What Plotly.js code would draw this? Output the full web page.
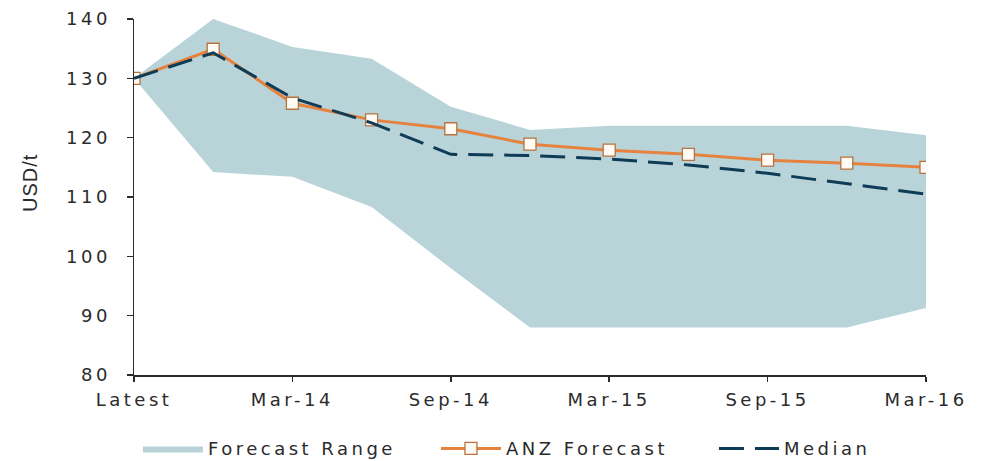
<!DOCTYPE html>
<html>
<head>
<meta charset="utf-8">
<script src="https://cdn.plot.ly/plotly-3.0.1.min.js"></script>
<style>
  html, body { margin: 0; padding: 0; background: #fff; }
  #chart { width: 981px; height: 461px; }
  /* wide, Verdana-like lettering for ticks and legend */
  text { letter-spacing: 3.5px; }
  .annotation-text { letter-spacing: 1px !important; }
</style>
</head>
<body>
<div id="chart"></div>
<script>
// Quarterly price outlook, USD per tonne
const categories = ['Latest', 'Dec-13', 'Mar-14', 'Jun-14', 'Sep-14', 'Dec-14',
                    'Mar-15', 'Jun-15', 'Sep-15', 'Dec-15', 'Mar-16'];
const tickLabels = ['Latest', 'Mar-14', 'Sep-14', 'Mar-15', 'Sep-15', 'Mar-16'];
const rangeHigh = [130, 140, 135.3, 133.3, 125.2, 121.3, 122, 122, 122, 122, 120.4];
const rangeLow  = [130, 114.2, 113.4, 108.3, 98, 88, 88, 88, 88, 88, 91.3];
const anzForecast = [130, 134.9, 125.8, 123.0, 121.5, 118.9, 117.9, 117.2, 116.2, 115.7, 115.0];
const median = [130, 134.3, 126.7, 122.5, 117.2, 117.0, 116.4, 115.4, 114.0, 112.3, 110.5];

const FILL = '#b9d4d9';
const ORANGE = '#e5823f';
const NAVY = '#0e3b55';
const INK = '#2b2b2b';

const traces = [
  {
    x: categories, y: rangeLow, type: 'scatter', mode: 'lines',
    line: { width: 0, color: FILL }, showlegend: false, hoverinfo: 'skip'
  },
  {
    x: categories, y: rangeHigh, type: 'scatter', mode: 'lines',
    fill: 'tonexty', fillcolor: FILL, legendwidth: 223,
    line: { width: 0, color: FILL }, name: 'Forecast Range', hoverinfo: 'skip'
  },
  {
    x: categories, y: anzForecast, type: 'scatter', mode: 'lines+markers',
    line: { color: ORANGE, width: 3 }, legendwidth: 203,
    marker: { symbol: 'square', size: 12, color: '#fffaf3',
              line: { color: '#b8723f', width: 1.3 } },
    name: 'ANZ Forecast'
  },
  {
    x: categories, y: median, type: 'scatter', mode: 'lines',
    line: { color: NAVY, width: 3, dash: '25px,11px' }, name: 'Median'
  }
];

const layout = {
  width: 981, height: 461,
  margin: { l: 134, r: 55, t: 19, b: 86, autoexpand: false },
  paper_bgcolor: '#fff', plot_bgcolor: '#fff',
  font: { family: 'DejaVu Sans, Verdana, sans-serif', size: 18, color: INK },
  hovermode: false,
  xaxis: {
    type: 'category', categoryorder: 'array', categoryarray: categories,
    range: [0, 10], tickvals: tickLabels, ticktext: tickLabels,
    showgrid: false, zeroline: false,
    showline: true, linecolor: INK, linewidth: 1.5,
    ticks: 'outside', ticklen: 5, tickwidth: 1.5, tickcolor: INK,
    ticklabelstandoff: 3,
    tickfont: { size: 18, color: INK }
  },
  yaxis: {
    range: [80, 140], tickvals: [80, 90, 100, 110, 120, 130, 140],
    showgrid: false, zeroline: false,
    showline: true, linecolor: INK, linewidth: 1.5,
    ticks: 'outside', ticklen: 6, tickwidth: 1.5, tickcolor: INK,
    ticklabelstandoff: 12,
    tickfont: { size: 18, color: INK }
  },
  legend: {
    orientation: 'h', x: 0.005, xanchor: 'left', y: -0.155, yanchor: 'top',
    itemwidth: 60, tracegroupgap: 0,
    traceorder: 'normal',
    font: { size: 18, color: INK }
  },
  annotations: [{
    text: 'USD/t', textangle: -90, showarrow: false,
    xref: 'paper', yref: 'paper', x: -0.131, y: 0.54,
    xanchor: 'center', yanchor: 'middle',
    font: { family: 'Liberation Sans, Arial, sans-serif', size: 20, color: INK }
  }]
};

// fill band first, then the forecast line, with the median dashes on top
Plotly.newPlot('chart', [traces[0], traces[1], traces[2], traces[3]], layout,
               { displayModeBar: false, staticPlot: true });
</script>
</body>
</html>
